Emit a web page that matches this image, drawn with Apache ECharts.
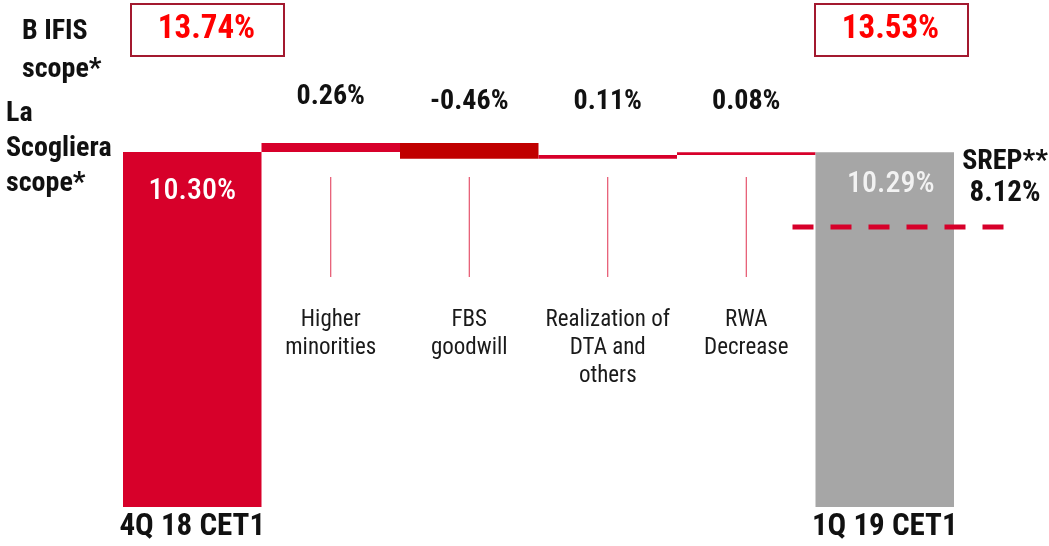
<!DOCTYPE html>
<html>
<head>
<meta charset="utf-8">
<script src="https://cdn.jsdelivr.net/npm/echarts@6/dist/echarts.min.js"></script>
<style>
  html, body { margin: 0; padding: 0; background: #ffffff; }
  #chart { width: 1049px; height: 546px; }
</style>
</head>
<body>
<div id="chart"></div>
<script>
// CET1 bridge, 4Q 18 -> 1Q 19
const categories = [
  '4Q 18 CET1',
  'Higher\nminorities',
  'FBS\ngoodwill',
  'Realization of\nDTA and\nothers',
  'RWA\nDecrease',
  '1Q 19 CET1'
];
const startValue = 10.30;            // La Scogliera scope, 4Q 18
const deltas = [0.26, -0.46, 0.11, 0.08];
const endValue = 10.29;              // La Scogliera scope, 1Q 19
const srepValue = 8.12;
const bifisScope = [13.74, 13.53];   // B IFIS scope, 4Q 18 / 1Q 19

const FONT = '"Roboto Condensed", Roboto, "Liberation Sans", sans-serif';
const RED = '#d7002a';
const DARK_RED = '#c00000';
const GREY = '#a6a6a6';

const pct = v => (v < 0 ? '-' : '') + Math.abs(v).toFixed(2) + '%';

// Invisible base + visible segment for each waterfall step
const baseData = [0];
const barData = [{ value: startValue, itemStyle: { color: RED } }];
let level = startValue;
deltas.forEach(d => {
  if (d >= 0) {
    baseData.push(level);
    level += d;
  } else {
    level += d;
    baseData.push(level);
  }
  barData.push({ value: Math.abs(d), itemStyle: { color: d < 0 ? DARK_RED : RED } });
});
baseData.push(0);
barData.push({ value: endValue, itemStyle: { color: GREY } });

barData[0].label = {
  show: true, position: 'insideTop', distance: 25,
  formatter: () => pct(startValue),
  color: '#ffffff', fontSize: 30, fontWeight: 500, fontFamily: FONT
};
barData[5].label = {
  show: true, position: 'insideTop', distance: 17, offset: [6, 0],
  formatter: () => pct(endValue),
  color: '#f2f2f2', fontSize: 30, fontWeight: 500, fontFamily: FONT
};

const stepData = deltas.map((d, i) => [i + 1, d]);
// vertical placement of the step value labels (px)
const stepLabelY = [97, 102, 102, 102];

const chart = echarts.init(document.getElementById('chart'), null, { renderer: 'canvas' });

chart.setOption({
  animation: false,
  backgroundColor: '#ffffff',
  grid: { left: 123, right: 95, top: 24.4, bottom: 39 },
  xAxis: [
    {
      type: 'category',
      data: categories,
      axisLine: { show: false },
      axisTick: { show: false },
      axisLabel: {
        margin: 5,
        interval: 0,
        fontSize: 31,
        fontWeight: 'bold',
        fontFamily: FONT,
        color: '#111111',
        formatter: (v, i) => (i === 0 || i === categories.length - 1) ? v : ''
      }
    },
    {
      type: 'category',
      position: 'bottom',
      offset: -201,
      data: categories,
      axisLine: { show: false },
      axisTick: { show: false },
      axisLabel: {
        margin: 0,
        interval: 0,
        fontSize: 23,
        lineHeight: 28,
        fontFamily: FONT,
        color: '#1a1a1a',
        formatter: (v, i) => (i === 0 || i === categories.length - 1) ? '' : v
      }
    }
  ],
  yAxis: {
    type: 'value', min: 0, max: 14,
    show: false,
    splitLine: { show: false }
  },
  series: [
    {
      type: 'bar', stack: 'bridge', silent: true,
      barCategoryGap: '0%',
      itemStyle: { color: 'transparent' },
      data: baseData
    },
    {
      type: 'bar', stack: 'bridge',
      barCategoryGap: '0%',
      data: barData
    },
    {
      // step value labels and leader lines
      type: 'custom',
      z: 5,
      data: stepData,
      renderItem: (params, api) => {
        const x = api.coord([api.value(0), 0])[0];
        return {
          type: 'group',
          children: [
            {
              type: 'text',
              style: {
                text: pct(api.value(1)), x: x, y: stepLabelY[params.dataIndex],
                textAlign: 'center', textVerticalAlign: 'middle',
                font: 'bold 28px ' + FONT, fill: '#111111'
              }
            },
            {
              type: 'line',
              shape: { x1: x, y1: 177, x2: x, y2: 277 },
              style: { stroke: '#e0304f', lineWidth: 1 }
            }
          ]
        };
      }
    },
    {
      // SREP requirement line across the closing bar
      type: 'custom',
      z: 5,
      clip: false,
      data: [[categories.length - 1, srepValue]],
      renderItem: (params, api) => {
        const p = api.coord([api.value(0), api.value(1)]);
        const half = api.size([1, 0])[0] / 2;
        const x1 = p[0] - half - 23;
        const x2 = p[0] + half + 50;
        const y = p[1];
        return {
          type: 'group',
          children: [
            {
              type: 'line',
              shape: { x1: x1, y1: y, x2: x2, y2: y },
              style: { stroke: RED, lineWidth: 5, lineDash: [21, 17] }
            },
            {
              type: 'text',
              style: {
                text: 'SREP**', x: x2 + 1, y: y - 65,
                textAlign: 'center', textVerticalAlign: 'middle',
                font: 'bold 28px ' + FONT, fill: '#111111'
              }
            },
            {
              type: 'text',
              style: {
                text: pct(api.value(1)), x: x2 + 1, y: y - 33,
                textAlign: 'center', textVerticalAlign: 'middle',
                font: 'bold 29px ' + FONT, fill: '#111111'
              }
            }
          ]
        };
      }
    }
  ],
  graphic: [
    {
      type: 'text', left: 22, top: 13,
      style: { text: 'B IFIS\nscope*', font: 'bold 28px ' + FONT, lineHeight: 38, fill: '#111111' }
    },
    {
      type: 'text', left: 6, top: 96,
      style: { text: 'La\nScogliera\nscope*', font: 'bold 28px ' + FONT, lineHeight: 35, fill: '#111111' }
    },
    {
      type: 'rect', left: 130, top: 3,
      shape: { width: 153, height: 52 },
      style: { fill: '#ffffff', stroke: '#a3192f', lineWidth: 2 }
    },
    {
      type: 'text', x: 206.5, y: 30,
      style: { text: pct(bifisScope[0]), textAlign: 'center', textVerticalAlign: 'middle',
               font: 'bold 33px ' + FONT, fill: '#ff0000' }
    },
    {
      type: 'rect', left: 814, top: 3,
      shape: { width: 153, height: 52 },
      style: { fill: '#ffffff', stroke: '#a3192f', lineWidth: 2 }
    },
    {
      type: 'text', x: 890.5, y: 30,
      style: { text: pct(bifisScope[1]), textAlign: 'center', textVerticalAlign: 'middle',
               font: 'bold 33px ' + FONT, fill: '#ff0000' }
    }
  ]
});
</script>
</body>
</html>
